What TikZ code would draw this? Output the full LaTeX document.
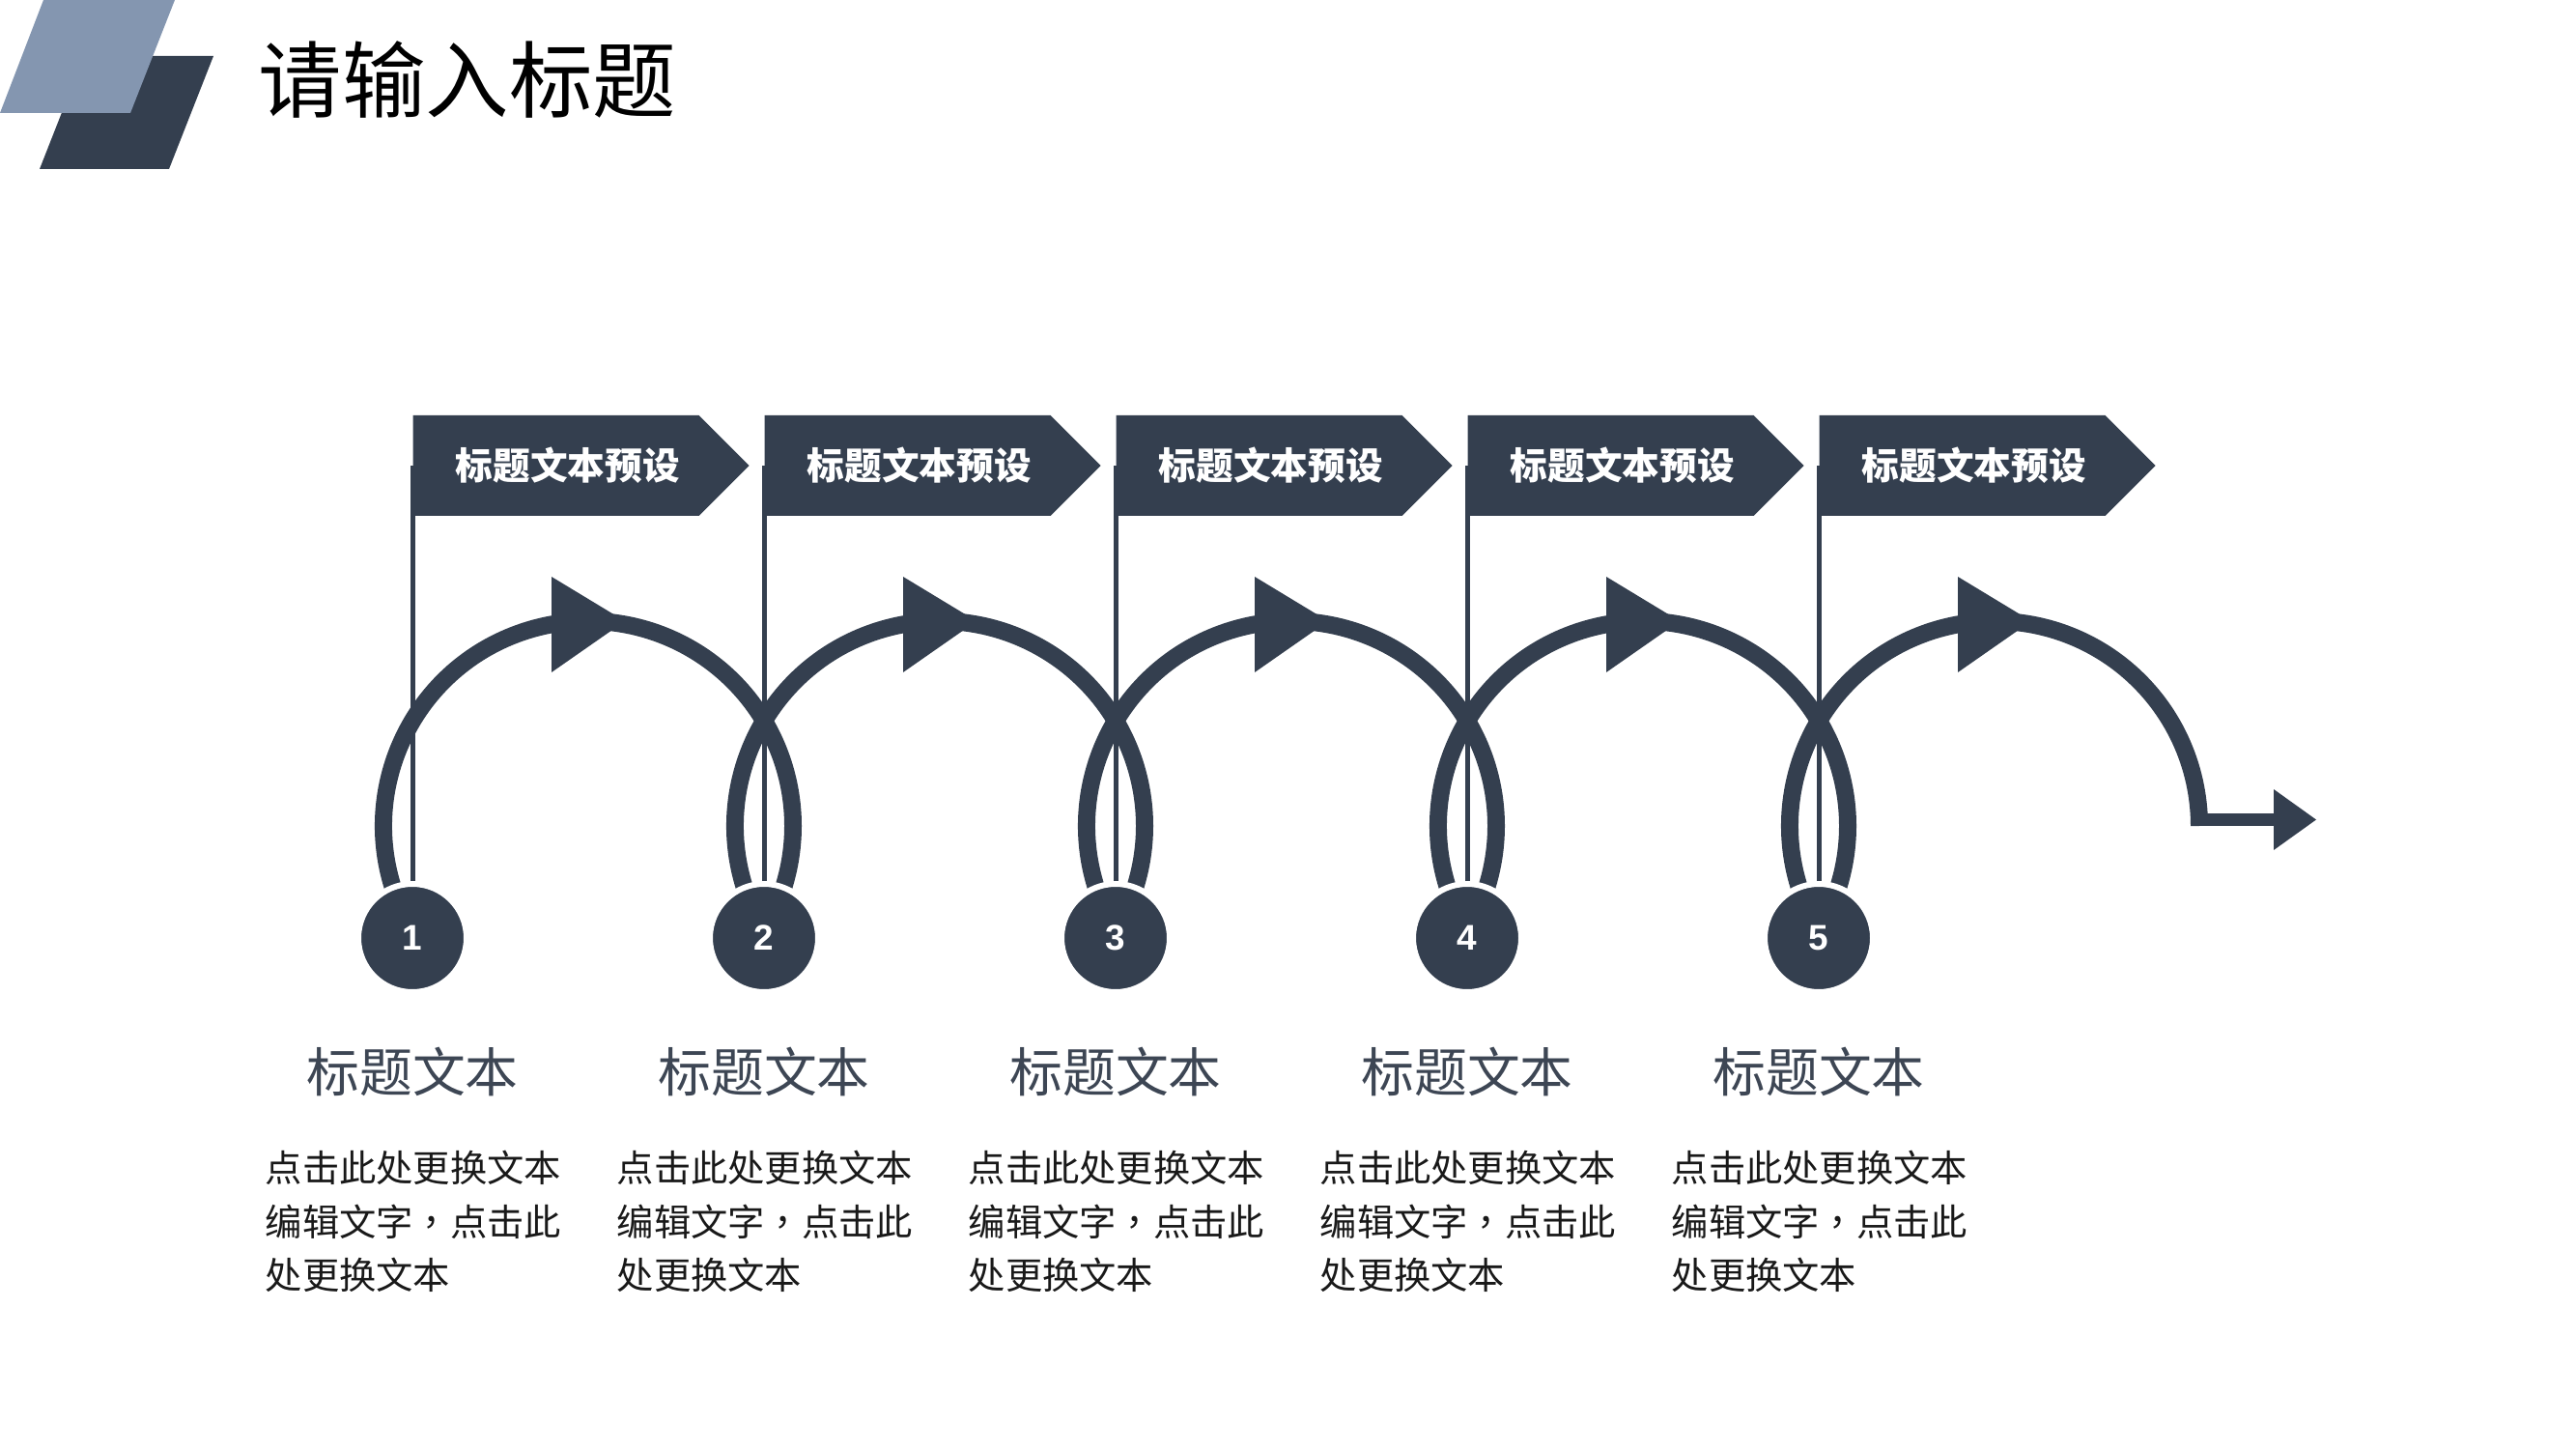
\documentclass[tikz,border=0pt]{standalone}
\usepackage{fontspec}
\setmainfont{Liberation Sans}
\newfontfamily\cjk{Noto Sans CJK SC}
\newfontfamily\cjkpunct{Noto Sans CJK TC}
\usetikzlibrary{arrows,positioning,calc,shapes.symbols}
\definecolor{slate}{HTML}{343F4F}
\definecolor{slatelight}{HTML}{8496B0}
\definecolor{capgray}{HTML}{3D4654}

\begin{document}
\begin{tikzpicture}
\useasboundingbox (0,0) rectangle (26.67,15);
\tikzset{NumStyle/.style={circle,fill=slate,draw=white,line width=0.06cm,minimum size=1.12cm,inner sep=0pt,
         text=white,font=\bfseries\fontsize{10.5}{10.5}\selectfont}}
\tikzset{FlagStyle/.style={signal,signal to=east,signal pointer angle=90,fill=slate,minimum width=3.48cm,
         minimum height=1.04cm,inner sep=0pt,anchor=west,text=white,font=\cjk\bfseries\fontsize{11}{11}\selectfont}}
\tikzset{LoopStyle/.style={draw=slate,line width=0.18cm}}
\tikzset{PoleStyle/.style={draw=slate,line width=0.05cm}}
\tikzset{CapStyle/.style={inner sep=0pt,text=capgray,font=\cjk\fontsize{15.6}{15.6}\selectfont}}
\tikzset{DescStyle/.style={inner sep=0pt,anchor=north west,align=left,text=black!90,
         font=\cjk\fontsize{10.9}{15.9}\selectfont}}
% header
\fill[slate] (0.87,14.42) -- (2.21,14.42) -- (1.75,13.25) -- (0.41,13.25) -- cycle;
\fill[slatelight] (0.45,15) -- (1.81,15) -- (1.35,13.83) -- (0,13.83) -- cycle;
\node[anchor=west,inner sep=0pt] (Title) at (2.67,14.18) {\cjk\fontsize{24.6}{24.6}\selectfont 请输入标题};
% loops
\foreach \i/\x in {1/4.27,2/7.91,3/11.55,4/15.19,5/18.83}{
  \coordinate (C\i) at (\x,5.29);
  \coordinate (A\i) at ($(C\i)+(1.82,1.16)$);
  \fill[slate] ($(A\i)+(-0.38,2.58)$) -- ($(A\i)+(0.38,2.12)$) -- ($(A\i)+(-0.38,1.59)$) -- cycle;
}
\foreach \i in {1,2,3,4}
  \draw[LoopStyle] (A\i) ++(200:2.12) arc[start angle=200,end angle=-20,radius=2.12];
\draw[LoopStyle] (A5) ++(200:2.12) arc[start angle=200,end angle=0,radius=2.12];
\coordinate (E) at (22.68,6.515);
\coordinate (End) at (23.54,6.515);
\draw[slate,line width=0.13cm] (E) -- (End);
\fill[slate] ($(End)+(0,0.315)$) -- ($(End)+(0.44,0)$) -- ($(End)+(0,-0.315)$) -- cycle;
% steps
\foreach \i/\x in {1/4.27,2/7.91,3/11.55,4/15.19,5/18.83}{
  \node[NumStyle] (N\i) at (C\i) {\i};
  \node[FlagStyle] (F\i) at (\x,10.18) {\hspace*{0.24cm}标题文本预设};
  \draw[PoleStyle] (N\i) -- (F\i.west);
  \node[CapStyle] (T\i) at (\x,3.91) {标题文本};
  \node[DescStyle] (D\i) at (\x-1.53,3.10) {点击此处更换文本\\编辑文字{\cjkpunct ，}点击此\\处更换文本};
}
\end{tikzpicture}
\end{document}
